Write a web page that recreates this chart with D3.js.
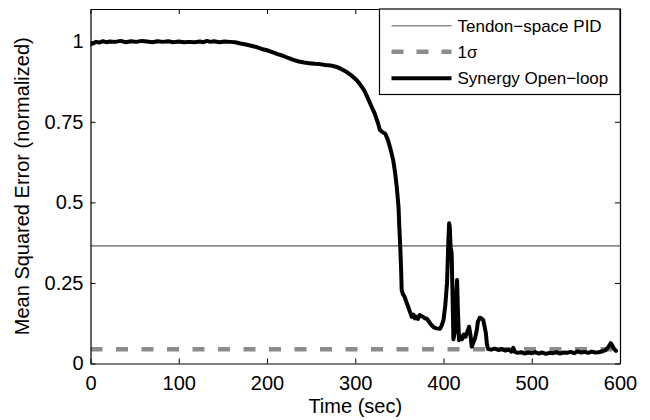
<!DOCTYPE html>
<html>
<head>
<meta charset="utf-8">
<script src="https://cdn.jsdelivr.net/npm/d3@7"></script>
<style>
  body { margin: 0; background: #fff; }
  svg text { font-family: "Liberation Sans", Arial, sans-serif; fill: #000; }
</style>
</head>
<body>
<div id="chart"></div>
<script>
// time (sec) and normalized MSE of the synergy open-loop run
const timeSec = [
  0, 3, 6, 10, 14, 18, 22, 28, 34, 40, 46, 52, 58, 64, 70, 76, 82, 88, 94, 100,
  106, 112, 118, 124, 128, 132, 136, 140, 146, 152, 158, 164, 170, 176, 182, 188, 194, 200,
  206, 212, 218, 224, 230, 236, 242, 248, 254, 260, 266, 272, 278, 284, 290, 296, 302,
  306, 310, 314, 318, 322, 326, 328, 331, 334, 337, 340, 343, 345, 347, 349, 350, 351,
  352, 352.6, 354, 356, 358, 360, 362, 364, 366, 367.5, 369.6, 371, 373, 376, 379, 381,
  384, 386.6, 389, 392, 396, 398, 400, 402, 404, 405.5, 406.4, 407.2, 408, 409.2, 410.2,
  411.2, 413, 414.3, 415.4, 416.4, 417.6, 419, 421, 423, 425, 427, 429, 430.5, 432, 434,
  435.7, 437.5, 439, 441, 443, 445, 446.5, 448, 449.2, 450.5, 454, 458, 462, 466, 470,
  474, 477, 479, 481, 484, 488, 492, 496, 500, 504, 508, 512, 516, 520, 524, 528, 532,
  536, 540, 544, 548, 552, 556, 560, 564, 568, 572, 576, 580, 584, 587, 589.5, 591.5,
  593, 595.5
];
const mseSynergy = [
  0.990, 0.993, 0.998, 0.996, 1.000, 0.997, 0.999, 0.998, 1.001, 0.997, 1.000, 0.998, 1.001, 0.999, 0.997, 1.000, 0.998, 1.000, 0.997, 0.999,
  0.997, 0.998, 0.997, 0.999, 0.997, 1.001, 0.998, 1.000, 0.997, 0.999, 0.998, 0.997, 0.993, 0.990, 0.986, 0.982, 0.976, 0.972,
  0.966, 0.960, 0.955, 0.948, 0.942, 0.937, 0.934, 0.932, 0.930, 0.929, 0.926, 0.925, 0.921, 0.914, 0.905, 0.893, 0.878,
  0.864, 0.848, 0.825, 0.800, 0.776, 0.744, 0.724, 0.718, 0.713, 0.694, 0.665, 0.631, 0.595, 0.549, 0.487, 0.420, 0.362,
  0.290, 0.228, 0.215, 0.207, 0.190, 0.176, 0.160, 0.145, 0.152, 0.140, 0.145, 0.138, 0.150, 0.146, 0.140, 0.140,
  0.128, 0.119, 0.112, 0.109, 0.108, 0.118, 0.135, 0.180, 0.250, 0.380, 0.435, 0.420, 0.360, 0.345, 0.220,
  0.075, 0.100, 0.200, 0.259, 0.160, 0.072, 0.085, 0.075, 0.090, 0.083, 0.098, 0.114, 0.090, 0.052, 0.066,
  0.078, 0.100, 0.130, 0.142, 0.140, 0.135, 0.115, 0.094, 0.060, 0.045, 0.043, 0.046, 0.042, 0.045, 0.040,
  0.043, 0.037, 0.049, 0.036, 0.033, 0.035, 0.031, 0.034, 0.032, 0.035, 0.031, 0.034, 0.030, 0.033, 0.032, 0.035, 0.031,
  0.034, 0.033, 0.036, 0.032, 0.038, 0.034, 0.036, 0.033, 0.037, 0.034, 0.035, 0.038, 0.042, 0.052, 0.063, 0.055,
  0.046, 0.039
];
const pidLevel = 0.365;
const sigmaLevel = 0.044;

const xTicks = [0, 100, 200, 300, 400, 500, 600];
const yTicks = [0, 0.25, 0.5, 0.75, 1];
const yTickLabels = ['0', '0.25', '0.5', '0.75', '1'];
const legendLabels = ['Tendon\u2212space PID', '1\u03c3', 'Synergy Open\u2212loop'];

const W = 650, H = 420;
const margin = { left: 90.5, right: 30, top: 9, bottom: 56.5 };
const innerW = W - margin.left - margin.right;
const innerH = H - margin.top - margin.bottom;

const svg = d3.select('#chart').append('svg')
  .attr('width', W)
  .attr('height', H);

const g = svg.append('g')
  .attr('transform', `translate(${margin.left},${margin.top})`);

const x = d3.scaleLinear().domain([0, 600]).range([0, innerW]);
const y = d3.scaleLinear().domain([0, 1.1]).range([innerH, 0]);

g.append('defs').append('clipPath').attr('id', 'plotclip')
  .append('rect').attr('width', innerW).attr('height', innerH);

const plot = g.append('g').attr('clip-path', 'url(#plotclip)');

// PID reference level
plot.append('line')
  .attr('x1', x(0)).attr('x2', x(600))
  .attr('y1', y(pidLevel)).attr('y2', y(pidLevel))
  .attr('stroke', '#8a8a8a')
  .attr('stroke-width', 1.6);

// 1 sigma level
plot.append('line')
  .attr('x1', x(0)).attr('x2', x(600))
  .attr('y1', y(sigmaLevel)).attr('y2', y(sigmaLevel))
  .attr('stroke', '#8c8c8c')
  .attr('stroke-width', 4.5)
  .attr('stroke-dasharray', '12,13.5');

const line = d3.line()
  .x(d => x(d[0]))
  .y(d => y(d[1]));

plot.append('path')
  .datum(d3.zip(timeSec, mseSynergy))
  .attr('fill', 'none')
  .attr('stroke', '#000')
  .attr('stroke-width', 4)
  .attr('stroke-linejoin', 'round')
  .attr('stroke-linecap', 'round')
  .attr('d', line);

// axes, ticks pointing inward on all four sides
const xAxis = g.append('g')
  .attr('transform', `translate(0,${innerH})`)
  .call(d3.axisBottom(x).tickValues(xTicks).tickSizeInner(-5).tickSizeOuter(0).tickPadding(12));

const yAxis = g.append('g')
  .call(d3.axisLeft(y).tickValues(yTicks).tickFormat((d, i) => yTickLabels[i])
    .tickSizeInner(-5).tickSizeOuter(0).tickPadding(7));

g.append('g')
  .call(d3.axisTop(x).tickValues(xTicks).tickFormat('').tickSizeInner(-5).tickSizeOuter(0));

g.append('g')
  .attr('transform', `translate(${innerW},0)`)
  .call(d3.axisRight(y).tickValues(yTicks).tickFormat('').tickSizeInner(-5).tickSizeOuter(0));

g.selectAll('.domain').attr('stroke', '#000').attr('stroke-width', 1.2);
g.selectAll('.tick line').attr('stroke', '#000');
g.selectAll('.tick text').attr('font-size', 20).attr('font-family', '"Liberation Sans", Arial, sans-serif');

// axis titles
svg.append('text')
  .attr('x', margin.left + innerW / 2)
  .attr('y', 413)
  .attr('text-anchor', 'middle')
  .attr('font-size', 20)
  .text('Time (sec)');

svg.append('text')
  .attr('transform', `translate(28.5,${margin.top + innerH / 2}) rotate(-90)`)
  .attr('text-anchor', 'middle')
  .attr('font-size', 20)
  .text('Mean Squared Error (normalized)');

// legend
const lgX = 379.5 - margin.left, lgW = innerW - lgX, lgH = 85.5;
const legend = g.append('g');
legend.append('rect')
  .attr('x', lgX).attr('y', 0)
  .attr('width', lgW).attr('height', lgH)
  .attr('fill', '#fff')
  .attr('stroke', '#000')
  .attr('stroke-width', 1.2);

const legendStyles = [
  { stroke: '#8a8a8a', width: 1.6, dash: null },
  { stroke: '#8c8c8c', width: 4.5, dash: '12,13' },
  { stroke: '#000', width: 4, dash: null }
];
const rowY = [16.7, 42.7, 69.3];

legendLabels.forEach((label, i) => {
  const s = legendStyles[i];
  legend.append('line')
    .attr('x1', lgX + 12).attr('x2', lgX + 72)
    .attr('y1', rowY[i]).attr('y2', rowY[i])
    .attr('stroke', s.stroke)
    .attr('stroke-width', s.width)
    .attr('stroke-dasharray', s.dash);
  legend.append('text')
    .attr('x', lgX + 78)
    .attr('y', rowY[i])
    .attr('dy', '0.36em')
    .attr('font-size', 17)
    .text(label);
});
</script>
</body>
</html>
